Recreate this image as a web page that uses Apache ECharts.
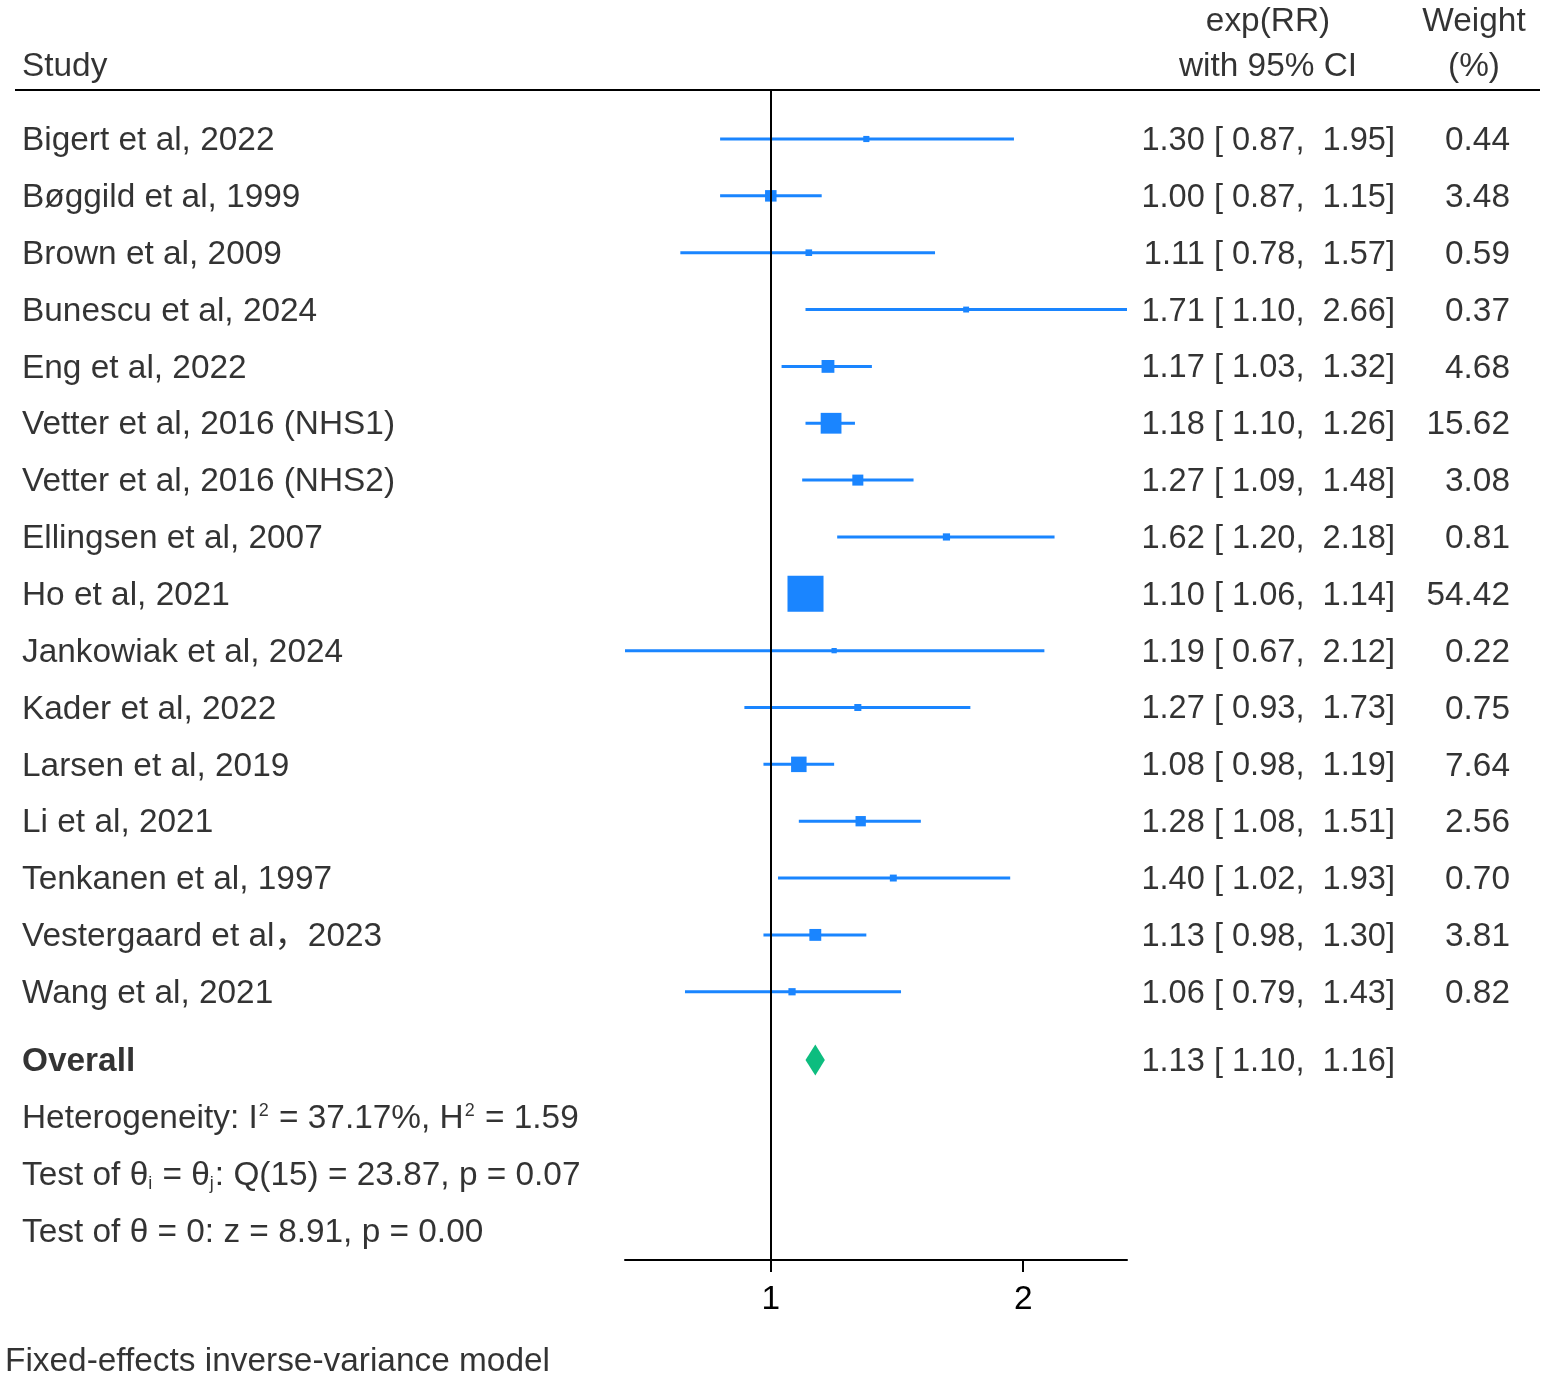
<!DOCTYPE html>
<html><head><meta charset="utf-8">
<script src="https://cdn.jsdelivr.net/npm/echarts@6/dist/echarts.min.js"></script>
<style>html,body{margin:0;padding:0;background:#fff;overflow:hidden}#c{width:1547px;height:1378px}</style>
</head><body><div id="c"></div>
<script>
// ---------- data ----------
const studies = ["Bigert et al, 2022","Bøggild et al, 1999","Brown et al, 2009","Bunescu et al, 2024","Eng et al, 2022","Vetter et al, 2016 (NHS1)","Vetter et al, 2016 (NHS2)","Ellingsen et al, 2007","Ho et al, 2021","Jankowiak et al, 2024","Kader et al, 2022","Larsen et al, 2019","Li et al, 2021","Tenkanen et al, 1997","Vestergaard et al，2023","Wang et al, 2021"];
const rr     = [1.30,1.00,1.11,1.71,1.17,1.18,1.27,1.62,1.10,1.19,1.27,1.08,1.28,1.40,1.13,1.06];
const ciLow  = [0.87,0.87,0.78,1.10,1.03,1.10,1.09,1.20,1.06,0.67,0.93,0.98,1.08,1.02,0.98,0.79];
const ciHigh = [1.95,1.15,1.57,2.66,1.32,1.26,1.48,2.18,1.14,2.12,1.73,1.19,1.51,1.93,1.30,1.43];
const weights= [0.44,3.48,0.59,0.37,4.68,15.62,3.08,0.81,54.42,0.22,0.75,7.64,2.56,0.70,3.81,0.82];
const overallLabel = "Overall";
const overallRR = [1.13];
const overallLow = [1.10];
const overallHigh = [1.16];
const statLines = [
  "Heterogeneity: I{sup|2} = 37.17%, H{sup|2} = 1.59",
  "Test of θ{sub|i} = θ{sub|j}: Q(15) = 23.87, p = 0.07",
  "Test of θ = 0: z = 8.91, p = 0.00"
];
const xTickValues = [1, 2];
const xRange = [0.67, 2.66];
const headerStudy = "Study";
const headerEffect = ["exp(RR)", "with 95% CI"];
const headerWeight = ["Weight", "(%)"];
const footer = "Fixed-effects inverse-variance model";

// ---------- layout ----------
const W = 1547, H = 1378;
const ROW0 = 139, ROWH = 56.85;
const PLOT_TOP = 90, PLOT_BOTTOM = 1260, PLOT_LEFT = 625, PLOT_RIGHT = 1127;
const rowOf = px => (px - ROW0) / ROWH;
const OVERALL_ROW = rowOf(1060);
const STAT_ROWS = [rowOf(1117), rowOf(1174), rowOf(1231)];
const BLUE = '#1a85ff', GREEN = '#0dbd7f';
const FONT = '"Liberation Sans", Arial, "Noto Sans CJK SC", sans-serif';
const FS = 33.4;
const lg = v => Math.log2(v);
const f2 = v => v.toFixed(2);

const studyData = studies.map((s, i) => [lg(rr[i]), i, lg(ciLow[i]), lg(ciHigh[i]), weights[i]]);
const diamondData = overallRR.map((v, i) => [lg(v), OVERALL_ROW, lg(overallLow[i]), lg(overallHigh[i])]);

function textSeries(items, align, labelExtra) {
  return {
    type: 'scatter', xAxisIndex: 1, yAxisIndex: 1, symbolSize: 0, silent: true,
    data: items.map(it => ({ name: it[0], value: [it[1], it[2]] })),
    label: Object.assign({
      show: true, position: [0, 0], offset: [0, 2], align: align, verticalAlign: 'middle',
      formatter: p => p.name, color: '#000', fontFamily: FONT, fontSize: FS,
      rich: {
        sup: { fontSize: 18, fontFamily: FONT, color: '#000', verticalAlign: 'top', lineHeight: 18, padding: [0, 1, 19, 1] },
        sub: { fontSize: 18, fontFamily: FONT, color: '#000', verticalAlign: 'bottom', lineHeight: 18, padding: [0, 1, 0, 0] }
      }
    }, labelExtra || {})
  };
}

const option = {
  backgroundColor: '#fff',
  animation: false,
  grid: [
    { left: PLOT_LEFT, width: PLOT_RIGHT - PLOT_LEFT, top: PLOT_TOP, height: PLOT_BOTTOM - PLOT_TOP, containLabel: false },
    { left: 0, width: W, top: 0, height: H, containLabel: false }
  ],
  xAxis: [
    {
      gridIndex: 0, type: 'value', min: lg(xRange[0]), max: lg(xRange[1]),
      axisLine: { show: true, onZero: false, lineStyle: { color: '#000', width: 2 } },
      axisTick: { show: true, length: 12, lineStyle: { color: '#000', width: 2 }, customValues: xTickValues.map(lg) },
      axisLabel: { show: true, customValues: xTickValues.map(lg), formatter: v => String(Math.round(Math.pow(2, v))), color: '#000', fontFamily: FONT, fontSize: FS, margin: 23 },
      splitLine: { show: false }
    },
    { gridIndex: 1, type: 'value', min: 0, max: W, show: false }
  ],
  yAxis: [
    { gridIndex: 0, type: 'value', inverse: true, min: rowOf(PLOT_TOP), max: rowOf(PLOT_BOTTOM), show: false },
    { gridIndex: 1, type: 'value', inverse: true, min: rowOf(0), max: rowOf(H), show: false }
  ],
  series: [
    // reference line at 1
    {
      type: 'line', xAxisIndex: 0, yAxisIndex: 0, data: [], silent: true,
      markLine: { silent: true, symbol: 'none', label: { show: false },
        lineStyle: { color: '#000', width: 2, type: 'solid' },
        data: [{ xAxis: 0 }] }
    },
    // CIs and weight squares
    {
      type: 'custom', xAxisIndex: 0, yAxisIndex: 0, silent: true, data: studyData,
      renderItem: (params, api) => {
        const y = api.value(1);
        const c = api.coord([api.value(0), y]);
        const l = api.coord([api.value(2), y]);
        const h = api.coord([api.value(3), y]);
        const s = 3.2 + 4.45 * Math.sqrt(api.value(4));
        return { type: 'group', children: [
          { type: 'line', shape: { x1: l[0], y1: l[1], x2: h[0], y2: h[1] }, style: { stroke: BLUE, lineWidth: 3 } },
          { type: 'rect', shape: { x: c[0] - s / 2, y: c[1] - s / 2, width: s, height: s }, style: { fill: BLUE } }
        ] };
      }
    },
    // overall diamond
    {
      type: 'custom', xAxisIndex: 0, yAxisIndex: 0, silent: true, data: diamondData,
      renderItem: (params, api) => {
        const y = api.value(1);
        const c = api.coord([api.value(0), y]);
        const l = api.coord([api.value(2), y]);
        const h = api.coord([api.value(3), y]);
        const hh = 15.5;
        return { type: 'polygon', shape: { points: [[l[0], c[1]], [c[0], c[1] - hh], [h[0], c[1]], [c[0], c[1] + hh]] }, style: { fill: GREEN } };
      }
    },
    // top rule
    {
      type: 'line', xAxisIndex: 1, yAxisIndex: 1, data: [], silent: true,
      markLine: { silent: true, symbol: 'none', label: { show: false },
        lineStyle: { color: '#000', width: 2, type: 'solid' },
        data: [[{ coord: [15, rowOf(PLOT_TOP)] }, { coord: [1540, rowOf(PLOT_TOP)] }]] }
    },
    // headers
    textSeries([[headerStudy, 22, rowOf(65)]], 'left'),
    textSeries([[headerEffect[0], 1268, rowOf(20)], [headerEffect[1], 1268, rowOf(65)], [headerWeight[0], 1474, rowOf(20)], [headerWeight[1], 1474, rowOf(65)]], 'center'),
    // study names
    textSeries(studies.map((s, i) => [s, 22, i]), 'left'),
    // effect column
    textSeries(studies.map((s, i) => [`${f2(rr[i])} [ ${f2(ciLow[i])},  ${f2(ciHigh[i])}]`, 1395, i])
      .concat(overallRR.map((v, i) => [`${f2(v)} [ ${f2(overallLow[i])},  ${f2(overallHigh[i])}]`, 1395, OVERALL_ROW])), 'right', { fontSize: 32.6 }),
    // weight column
    textSeries(weights.map((w, i) => [f2(w), 1510, i]), 'right'),
    // overall label
    textSeries([[overallLabel, 22, OVERALL_ROW]], 'left', { fontWeight: 'bold' }),
    // stats
    textSeries(statLines.map((t, i) => [t, 22, STAT_ROWS[i]]), 'left'),
    // footer
    textSeries([[footer, 5, rowOf(1360)]], 'left')
  ]
};

const chart = echarts.init(document.getElementById('c'), null, { renderer: 'canvas', width: W, height: H });
chart.setOption(option);
</script>
</body></html>
